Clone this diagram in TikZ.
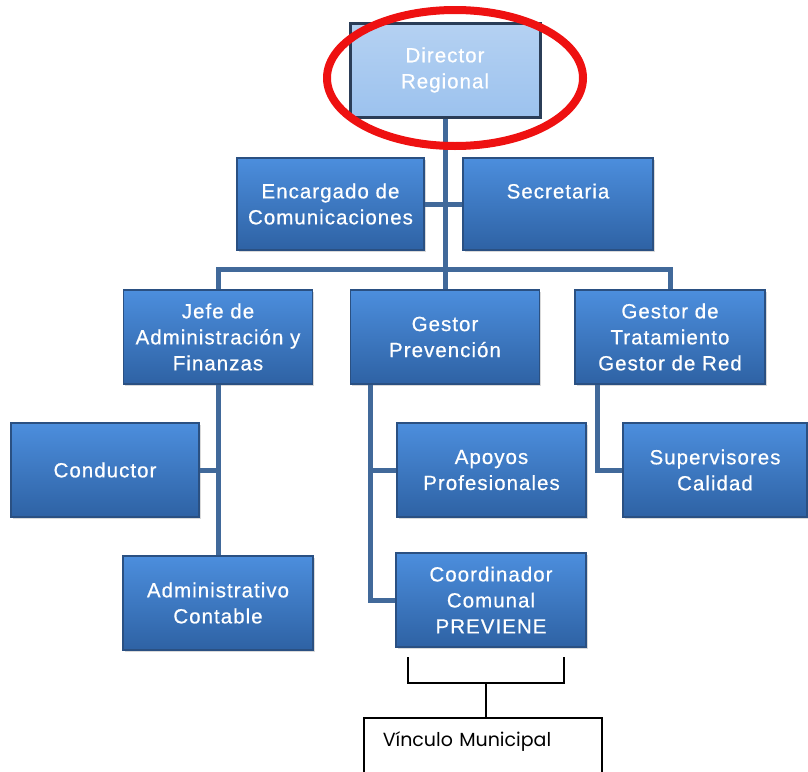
\documentclass[tikz,border=0pt]{standalone}
\usepackage{fontspec}
\setmainfont{Liberation Sans}
\newfontfamily\unitfont{Liberation Sans}[LetterSpace=5, FakeBold=0.6]
\newfontfamily\linkfont{Poppins}
\usetikzlibrary{positioning, shadows}
\definecolor{unittop}{HTML}{4C8EDD}
\definecolor{unitbot}{HTML}{2E62A4}
\definecolor{unitline}{HTML}{2A5082}
\definecolor{dirfill}{HTML}{9CC2EE}
\definecolor{dirline}{HTML}{2B3D57}
\definecolor{linkcol}{HTML}{41699A}
\definecolor{ringred}{HTML}{EE1111}

\begin{document}
\begin{tikzpicture}[x=1pt, y=-1pt,
		unit/.style={draw=unitline, line width=1.2pt, top color=unittop, bottom color=unitbot,
			text=white, font=\unitfont\fontsize{20.5}{26}\selectfont, align=center,
			minimum width=189pt, minimum height=94pt, inner sep=2pt,
			drop shadow={opacity=0.3, shadow xshift=1.5pt, shadow yshift=-1.5pt}},
		dirbox/.style={top color=dirfill!75!white, bottom color=dirfill, draw=dirline,
			line width=3pt, minimum width=190pt, minimum height=94pt},
		link/.style={draw=linkcol, line width=5pt},
		bracket/.style={draw=black, line width=2.5pt},
		vincbox/.style={draw=black, line width=1.5pt, anchor=north west, align=left,
			font=\linkfont\fontsize{19}{22}\selectfont, text width=200pt,
			inner xsep=19pt, inner ysep=14pt, text depth=75pt}]
		\useasboundingbox (0,0) rectangle (808,771);
		
		% levels of the chart
		\node[unit, dirbox] (dir) at (445,70) {Director\\Regional};
		\node[unit, minimum width=187pt, minimum height=92pt] (enc) at (330.5,204) {Encargado de\\Comunicaciones};
		\node[unit, minimum width=190pt, minimum height=92pt] (sec) at (558,204) {Secretaria\\\mbox{}};
		\node[unit] (jefe) at (218,337) {Jefe de\\Administración y\\Finanzas};
		\node[unit] (prev) at (445,337) {Gestor\\Prevención};
		\node[unit, minimum width=190pt] (trat) at (670,337) {Gestor de\\Tratamiento\\Gestor de Red};
		\node[unit, minimum width=188pt] (cond) at (105,470) {Conductor};
		\node[unit] (apoy) at (491.5,470) {Apoyos\\Profesionales};
		\node[unit, minimum width=184pt] (sup) at (715,470) {Supervisores\\Calidad};
		\node[unit, minimum width=190pt] (adm) at (218,603) {Administrativo\\Contable};
		\node[unit, minimum width=190pt] (coord) at (491,600) {Coordinador\\Comunal\\PREVIENE};
		\node[vincbox] (vinc) at (363,717) {Vínculo Municipal};
		
		% connectors
		\draw[link] (dir.south) -- (prev.north);
		\draw[link] (enc.east) -- (sec.west);
		\draw[link] (jefe.north) -- ++(0,-20) -| (trat.north);
		\draw[link] (jefe.south) -- (adm.north);
		\draw[link] (cond.east) -- (cond.east -| jefe.south);
		\coordinate (prevfoot) at ([xshift=21pt]prev.south west);
		\draw[link] (prevfoot) |- (coord.west);
		\draw[link] (prevfoot |- apoy.west) -- (apoy.west);
		\coordinate (tratfoot) at ([xshift=23pt]trat.south west);
		\draw[link] (tratfoot) |- (sup.west);
		
		% bracket to the municipal link
		\coordinate (brl) at (408,657);
		\coordinate (brr) at (564,657);
		\coordinate (brm) at (486,683);
		\draw[bracket] (brl) -- (brl |- brm) -- (brr |- brm) -- (brr);
		\draw[bracket] (brm) -- (brm |- vinc.north);
		
		% highlight
		\draw[ringred, line width=8pt] (455,78) ellipse [x radius=128, y radius=68];
	\end{tikzpicture}
\end{document}
